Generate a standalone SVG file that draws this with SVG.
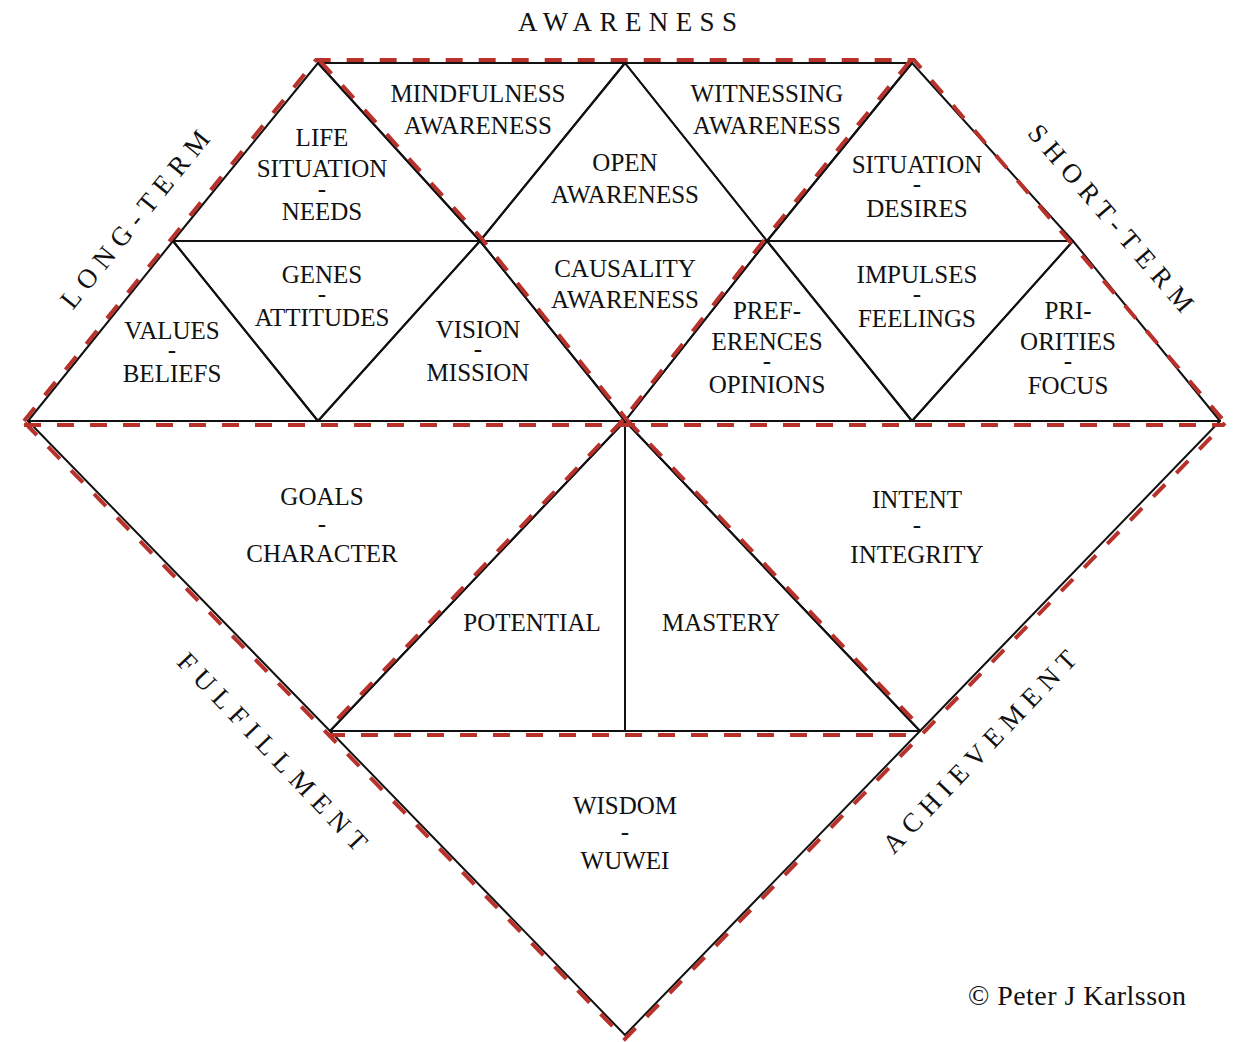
<svg xmlns="http://www.w3.org/2000/svg" width="1233" height="1042" viewBox="0 0 1233 1042">
<style>
.cell{fill:none;stroke:#111;stroke-width:2;stroke-linejoin:round}
.red{fill:none;stroke:#b8312b;stroke-width:4;stroke-dasharray:17 16}
.t{font-size:25px;text-anchor:middle;fill:#111}
.lab{font-size:27px;text-anchor:middle;fill:#111}
</style>
<rect width="1233" height="1042" fill="#fff"/>
<g id="life" font-family="Liberation Serif"><polygon class="cell" points="173,241 318,63 480,241"/>
<text class="t" x="322" y="146" font-family="Liberation Serif">LIFE</text><text class="t" x="322" y="177" font-family="Liberation Serif">SITUATION</text><text class="t" x="322" y="197" font-family="Liberation Serif">-</text><text class="t" x="322" y="220" font-family="Liberation Serif">NEEDS</text></g>
<g id="mindfulness"><polygon class="cell" points="318,63 625,63 480,241"/>
<text class="t" x="478" y="102" font-family="Liberation Serif">MINDFULNESS</text><text class="t" x="478" y="134" font-family="Liberation Serif">AWARENESS</text></g>
<g id="open"><polygon class="cell" points="480,241 625,63 767,241"/>
<text class="t" x="625" y="171" font-family="Liberation Serif">OPEN</text><text class="t" x="625" y="203" font-family="Liberation Serif">AWARENESS</text></g>
<g id="witnessing"><polygon class="cell" points="625,63 912,63 767,241"/>
<text class="t" x="767" y="102" font-family="Liberation Serif">WITNESSING</text><text class="t" x="767" y="134" font-family="Liberation Serif">AWARENESS</text></g>
<g id="situation"><polygon class="cell" points="767,241 912,63 1073,241"/>
<text class="t" x="917" y="173" font-family="Liberation Serif">SITUATION</text><text class="t" x="917" y="192" font-family="Liberation Serif">-</text><text class="t" x="917" y="217" font-family="Liberation Serif">DESIRES</text></g>
<g id="values"><polygon class="cell" points="28,421 173,241 318,421"/>
<text class="t" x="172" y="339" font-family="Liberation Serif">VALUES</text><text class="t" x="172" y="358" font-family="Liberation Serif">-</text><text class="t" x="172" y="382" font-family="Liberation Serif">BELIEFS</text></g>
<g id="genes"><polygon class="cell" points="173,241 480,241 318,421"/>
<text class="t" x="322" y="283" font-family="Liberation Serif">GENES</text><text class="t" x="322" y="302" font-family="Liberation Serif">-</text><text class="t" x="322" y="326" font-family="Liberation Serif">ATTITUDES</text></g>
<g id="vision"><polygon class="cell" points="318,421 480,241 625,421"/>
<text class="t" x="478" y="338" font-family="Liberation Serif">VISION</text><text class="t" x="478" y="357" font-family="Liberation Serif">-</text><text class="t" x="478" y="381" font-family="Liberation Serif">MISSION</text></g>
<g id="causality"><polygon class="cell" points="480,241 767,241 625,421"/>
<text class="t" x="625" y="277" font-family="Liberation Serif">CAUSALITY</text><text class="t" x="625" y="308" font-family="Liberation Serif">AWARENESS</text></g>
<g id="preferences"><polygon class="cell" points="625,421 767,241 912,421"/>
<text class="t" x="767" y="319" font-family="Liberation Serif">PREF-</text><text class="t" x="767" y="350" font-family="Liberation Serif">ERENCES</text><text class="t" x="767" y="369" font-family="Liberation Serif">-</text><text class="t" x="767" y="393" font-family="Liberation Serif">OPINIONS</text></g>
<g id="impulses"><polygon class="cell" points="767,241 1073,241 912,421"/>
<text class="t" x="917" y="283" font-family="Liberation Serif">IMPULSES</text><text class="t" x="917" y="302" font-family="Liberation Serif">-</text><text class="t" x="917" y="327" font-family="Liberation Serif">FEELINGS</text></g>
<g id="priorities"><polygon class="cell" points="912,421 1073,241 1220,421"/>
<text class="t" x="1068" y="319" font-family="Liberation Serif">PRI-</text><text class="t" x="1068" y="350" font-family="Liberation Serif">ORITIES</text><text class="t" x="1068" y="369" font-family="Liberation Serif">-</text><text class="t" x="1068" y="394" font-family="Liberation Serif">FOCUS</text></g>
<g id="goals"><polygon class="cell" points="28,421 625,421 330,731"/>
<text class="t" x="322" y="505" font-family="Liberation Serif">GOALS</text><text class="t" x="322" y="532" font-family="Liberation Serif">-</text><text class="t" x="322" y="562" font-family="Liberation Serif">CHARACTER</text></g>
<g id="potential"><polygon class="cell" points="625,421 330,731 625,731"/>
<text class="t" x="532" y="631" font-family="Liberation Serif">POTENTIAL</text></g>
<g id="mastery"><polygon class="cell" points="625,421 625,731 920,731"/>
<text class="t" x="721" y="631" font-family="Liberation Serif">MASTERY</text></g>
<g id="intent"><polygon class="cell" points="625,421 1220,421 920,731"/>
<text class="t" x="917" y="508" font-family="Liberation Serif">INTENT</text><text class="t" x="917" y="533" font-family="Liberation Serif">-</text><text class="t" x="917" y="563" font-family="Liberation Serif">INTEGRITY</text></g>
<g id="wisdom"><polygon class="cell" points="330,731 920,731 625,1035"/>
<text class="t" x="625" y="814" font-family="Liberation Serif">WISDOM</text><text class="t" x="625" y="840" font-family="Liberation Serif">-</text><text class="t" x="625" y="869" font-family="Liberation Serif">WUWEI</text></g>
<g id="dashed">
<path class="red" d="M24,421 L316,60 L914,60 L1224,421"/>
<path class="red" d="M320,61 L482,239 L627,420"/>
<path class="red" d="M910,61 L765,239 L623,420"/>
<path class="red" d="M24,425 L1224,425"/>
<path class="red" d="M623,420 L328,729"/>
<path class="red" d="M627,420 L922,729"/>
<path class="red" d="M328,735 L922,735"/>
<path class="red" d="M25,423 L625,1039 L1225,423"/>
</g>
<g id="labels">
<text x="518" y="31" font-size="27" fill="#111" font-family="Liberation Serif" textLength="219">AWARENESS</text>
<text class="lab" font-family="Liberation Serif" transform="translate(142,225) rotate(-51)" textLength="220">LONG-TERM</text>
<text class="lab" font-family="Liberation Serif" transform="translate(1104,224) rotate(49.3)" textLength="238">SHORT-TERM</text>
<text class="lab" font-family="Liberation Serif" transform="translate(266,758) rotate(46.5)" textLength="262">FULFILLMENT</text>
<text class="lab" font-family="Liberation Serif" transform="translate(986,758) rotate(-46.5)" textLength="268">ACHIEVEMENT</text>
<text x="968" y="1005" font-size="28" fill="#111" font-family="Liberation Serif" textLength="218">© Peter J Karlsson</text>
</g>
</svg>
